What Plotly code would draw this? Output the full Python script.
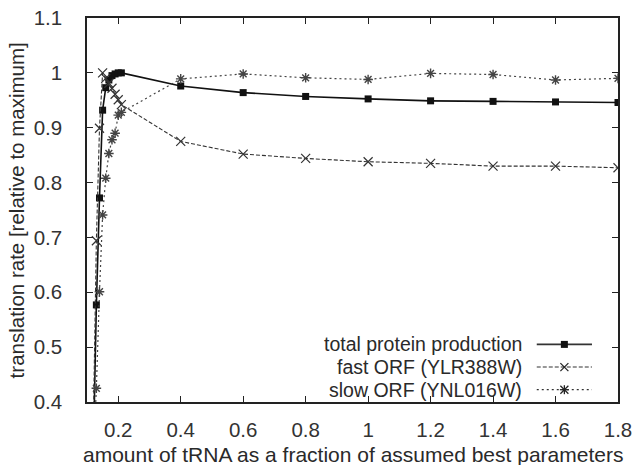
import plotly.graph_objects as go

x_vals = [0.12, 0.13, 0.14, 0.15, 0.16, 0.17, 0.18, 0.19, 0.2, 0.21,
          0.4, 0.6, 0.8, 1.0, 1.2, 1.4, 1.6, 1.8]
total_protein = [0.30, 0.577, 0.772, 0.932, 0.973, 0.987, 0.995, 0.998, 1.0, 1.0,
                 0.976, 0.964, 0.957, 0.9525, 0.949, 0.948, 0.947, 0.946]
fast_orf = [0.35, 0.694, 0.899, 1.0, 0.99, 0.981, 0.972, 0.961, 0.951, 0.942,
            0.875, 0.852, 0.844, 0.838, 0.835, 0.830, 0.830, 0.827]
slow_orf = [0.30, 0.425, 0.601, 0.741, 0.808, 0.853, 0.878, 0.890, 0.923, 0.928,
            0.989, 0.998, 0.991, 0.988, 0.999, 0.997, 0.987, 0.990]

names = ["total protein production", "fast ORF (YLR388W)", "slow ORF (YNL016W)"]
x_ticks = [0.2, 0.4, 0.6, 0.8, 1.0, 1.2, 1.4, 1.6, 1.8]
y_ticks = [0.4, 0.5, 0.6, 0.7, 0.8, 0.9, 1.0, 1.1]
x_title = "amount of tRNA as a fraction of assumed best parameters"
y_title = "translation rate [relative to maximum]"

FONT = "Liberation Sans, Arial, sans-serif"
TXT = "#2a2a2a"

fig = go.Figure()
fig.add_trace(go.Scatter(x=x_vals, y=total_protein, mode="lines+markers", name=names[0],
                         line=dict(color="#111111", width=1.6),
                         marker=dict(symbol="square", size=7, color="#111111")))
fig.add_trace(go.Scatter(x=x_vals, y=fast_orf, mode="lines+markers", name=names[1],
                         line=dict(color="#333333", width=1.1, dash="4px,2px"),
                         marker=dict(symbol="x-thin-open", size=9,
                                     line=dict(color="#222222", width=1.2))))
fig.add_trace(go.Scatter(x=x_vals, y=slow_orf, mode="lines+markers", name=names[2],
                         line=dict(color="#444444", width=1.2, dash="2px,3px"),
                         marker=dict(symbol="asterisk-open", size=8,
                                     line=dict(color="#222222", width=1.4))))

# custom legend (text left of sample, gnuplot style)
PW, PH = 531.0, 384.0  # plot area size in px
rows = [0.150, 0.091, 0.032]
dashes = ["solid", "4px,2px", "2px,3px"]
widths = [1.6, 1.1, 1.2]
xc = 0.899
for i, (nm, yy) in enumerate(zip(names, rows)):
    fig.add_annotation(x=0.822, y=yy, xref="paper", yref="paper", text=nm,
                       showarrow=False, xanchor="right", yanchor="middle", borderpad=0,
                       font=dict(family=FONT, size=19.5, color=TXT))
    fig.add_shape(type="line", xref="paper", yref="paper", x0=0.847, x1=0.951,
                  y0=yy, y1=yy, line=dict(color="#333333", width=widths[i], dash=dashes[i]))

def seg(dx0, dy0, dx1, dy1, yy, w=1.2):
    fig.add_shape(type="line", xref="paper", yref="paper",
                  x0=xc + dx0 / PW, y0=yy + dy0 / PH, x1=xc + dx1 / PW, y1=yy + dy1 / PH,
                  line=dict(color="#222222", width=w))

fig.add_shape(type="rect", xref="paper", yref="paper", x0=xc - 3.5 / PW, x1=xc + 3.5 / PW,
              y0=rows[0] - 3.5 / PH, y1=rows[0] + 3.5 / PH, fillcolor="#111111",
              line=dict(width=0))
seg(-4, -4, 4, 4, rows[1])
seg(-4, 4, 4, -4, rows[1])
seg(-4, -4, 4, 4, rows[2], 1.3)
seg(-4, 4, 4, -4, rows[2], 1.3)
seg(0, -4.5, 0, 4.5, rows[2], 1.3)
seg(-4.5, 0, 4.5, 0, rows[2], 1.3)

# axis titles as annotations (fixed placement)
fig.add_annotation(x=0.5, y=-0.138, xref="paper", yref="paper", text=x_title,
                   showarrow=False, xanchor="center", yanchor="middle", borderpad=0,
                   font=dict(family=FONT, size=21, color=TXT))
fig.add_annotation(x=-0.133, y=0.5, xref="paper", yref="paper", text=y_title,
                   showarrow=False, xanchor="center", yanchor="middle", textangle=-90,
                   borderpad=0, font=dict(family=FONT, size=20.5, color=TXT))

axis_common = dict(showline=True, linecolor="#222222", linewidth=1.5, mirror="ticks",
                   ticks="inside", ticklen=6, tickwidth=1.2, tickcolor="#222222",
                   showgrid=False, zeroline=False, automargin=False,
                   tickfont=dict(family=FONT, size=20.5, color="#333333"))

fig.update_layout(
    width=643, height=465,
    margin=dict(l=87, r=25, t=18, b=63),
    paper_bgcolor="white", plot_bgcolor="white",
    showlegend=False,
    font=dict(family=FONT, size=20, color=TXT),
    xaxis=dict(range=[0.1, 1.8], tickvals=x_ticks,
               ticktext=[f"{v:g}" for v in x_ticks], ticklabelstandoff=9,
               **axis_common),
    yaxis=dict(range=[0.4, 1.1], tickvals=y_ticks,
               ticktext=[f"{v:g}" for v in y_ticks], ticklabelstandoff=19,
               **axis_common),
)

fig.write_html("out.html")
